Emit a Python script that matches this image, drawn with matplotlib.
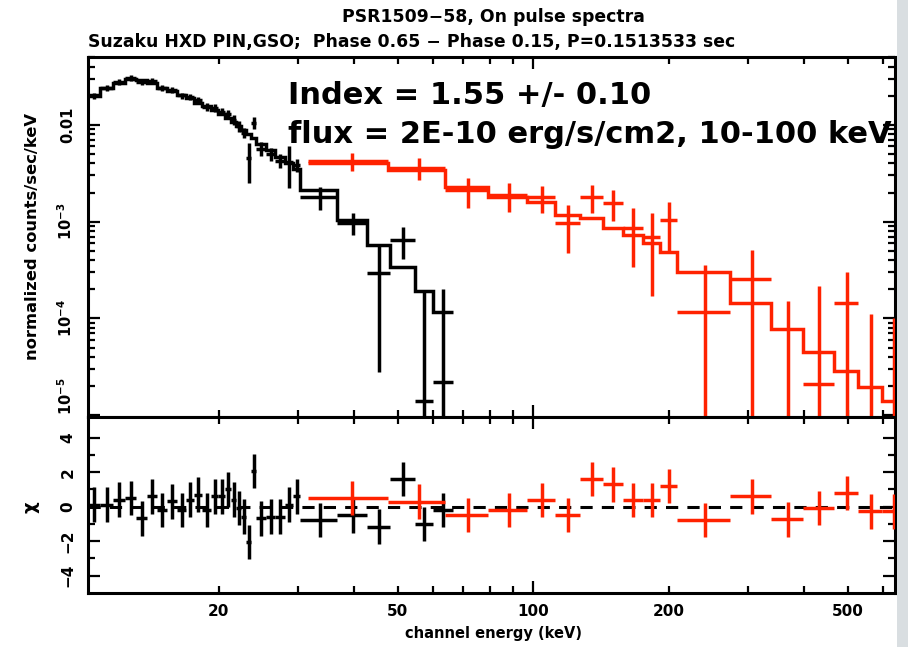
import numpy as np
import matplotlib
matplotlib.use("Agg")
from matplotlib import pyplot as plt
from matplotlib.ticker import FixedLocator, NullFormatter, LogLocator
from matplotlib.patches import Rectangle

plt.rcParams['font.family'] = ['DejaVu Sans']
plt.rcParams['font.weight'] = 'bold'
plt.rcParams['axes.labelweight'] = 'bold'
plt.rcParams['mathtext.default'] = 'bf'

# HXD PIN (black) - bin edges in keV, rates, errors, model, residuals
pin_edges = [10.26, 10.91, 11.66, 12.40, 13.12, 13.88, 14.60, 15.37, 16.18, 16.94,
             17.65, 18.38, 19.25, 19.95, 20.68, 21.33, 21.88, 22.44, 23.03, 23.62,
             24.24, 25.50, 26.71, 28.11, 29.29, 30.34, 36.7, 42.8, 48.1, 54.7,
             59.9, 66.5]
pin_rate = [0.0201, 0.0243, 0.0279, 0.0308, 0.0277, 0.0282, 0.0238, 0.0229, 0.0201, 0.0196,
            0.0180, 0.01545, 0.0151, 0.0137, 0.0129, 0.0112, 0.00967, 0.00828, 0.0045, 0.0105,
            0.00569, 0.00502, 0.00425, 0.00414, 0.00386, 0.00181, 0.00098, 0.000298, 0.00065,
            0.0000139, 0.0000219]
pin_err = [0.0014, 0.0017, 0.0020, 0.0022, 0.0019, 0.0020, 0.0017, 0.0016, 0.0014, 0.0014,
           0.0016, 0.0014, 0.0014, 0.0012, 0.0012, 0.0013, 0.0012, 0.0010, 0.0020, 0.0015,
           0.0009, 0.0008, 0.0007, 0.0019, 0.0006, 0.00048, 0.00025, 0.00027, 0.00024,
           0.00018, 0.00018]
pin_model = [0.0199, 0.0241, 0.0271, 0.0298, 0.0291, 0.0271, 0.0241, 0.0224, 0.0204, 0.0190,
             0.0169, 0.0157, 0.0143, 0.0130, 0.0118, 0.0107, 0.00976, 0.00888, 0.00808, 0.00734,
             0.00637, 0.00552, 0.00468, 0.00406, 0.00352, 0.00214, 0.00105, 0.00058, 0.00034,
             0.00019, 0.000117]
pin_chi = [0.12, 0.12, 0.41, 0.5, -0.67, 0.6, -0.18, 0.31, -0.18, 0.41,
           0.7, -0.18, 0.6, 0.6, 1.0, 0.41, -0.08, -0.57, -2.04, 2.08,
           -0.67, -0.57, -0.57, 0.12, 0.6, -0.76, -0.5, -1.15, 1.6, -1.0, -0.2]

# HXD GSO (red)
gso_edges = [31.6, 47.6, 63.7, 79.4, 97.0, 111.9, 127.2, 143.1, 158.5, 175.6,
             191.5, 208.9, 274.0, 338.0, 398.1, 466.6, 527.6, 596.5, 670.9]
gso_rate = [0.0042, 0.0036, 0.0021, 0.0019, 0.0018, 0.00097, 0.00181, 0.00157, 0.00087,
            0.00070, 0.00105, 0.000118, 0.000258, 0.000005, 0.0000209, 0.000143,
            0.000002, 0.000002]
gso_err = [0.0009, 0.0009, 0.0007, 0.00063, 0.00056, 0.0005, 0.00058, 0.00055, 0.00053,
           0.00053, 0.00056, 0.00024, 0.00025, 0.000145, 0.000193, 0.00016, 0.000108, 0.0001]
gso_model = [0.00405, 0.00344, 0.0023, 0.00181, 0.00161, 0.00118, 0.0011, 0.000867, 0.000734,
             0.000608, 0.000491, 0.000305, 0.000146, 0.000077, 0.0000446, 0.0000284,
             0.0000195, 0.0000139]
gso_chi = [0.5, 0.3, -0.47, -0.18, 0.4, -0.47, 1.6, 1.3, 0.4, 0.4, 1.2, -0.76, 0.6, -0.73,
           -0.08, 0.8, -0.27, -0.27]

xtick_minor = [20, 30, 40, 50, 60, 70, 80, 90, 200, 300, 400, 500, 600]
xtick_labeled = [20, 50, 100, 200, 500]
ytick_vals = [1e-5, 1e-4, 1e-3, 1e-2]
ytick_labels = [r'$10^{-5}$', r'$10^{-4}$', r'$10^{-3}$', '0.01']
chi_ticks = [-4, -2, 0, 2, 4]
chi_minor = [-3, -1, 1, 3]
chi_labels = ['\u22124', '\u22122', '0', '2', '4']

RED = '#ff2200'
LW = 2.5


def crosses(ax, edges, vals, errs, color, floor=None):
    lo = np.array(edges[:-1])
    hi = np.array(edges[1:])
    mid = (lo + hi) / 2
    vals = np.array(vals)
    errs = np.array(errs)
    if floor is not None:
        down = vals - np.clip(vals - errs, floor, None)
    else:
        down = errs
    ax.errorbar(mid, vals, xerr=[mid - lo, hi - mid], yerr=[down, errs], fmt='none',
                ecolor=color, elinewidth=LW, capsize=0, zorder=3)


fig = plt.figure(figsize=(9.08, 6.47), dpi=100)
ax1 = fig.add_axes([88 / 908, 1 - 417 / 647, 807 / 908, 360 / 647])
ax2 = fig.add_axes([88 / 908, 1 - 593 / 647, 807 / 908, 176 / 647])

# upper panel: data + folded model
crosses(ax1, pin_edges, pin_rate, pin_err, 'black', floor=1e-9)
ax1.stairs(pin_model, pin_edges, color='black', lw=LW, baseline=None, zorder=3)
crosses(ax1, gso_edges, gso_rate, gso_err, RED, floor=1e-9)
ax1.stairs(gso_model, gso_edges, color=RED, lw=LW, baseline=None, zorder=4)

# lower panel: residuals
ax2.axhline(0, color='black', lw=2.2, ls=(0, (4, 3)), zorder=1)
crosses(ax2, pin_edges, pin_chi, np.ones(len(pin_chi)), 'black')
crosses(ax2, gso_edges, gso_chi, np.ones(len(gso_chi)), RED)

for ax in (ax1, ax2):
    ax.set_xscale('log')
    ax.set_xlim(10.25, 637)
    ax.xaxis.set_major_locator(FixedLocator([10, 100, 1000]))
    ax.xaxis.set_minor_locator(FixedLocator(xtick_minor))
    ax.tick_params(which='both', direction='in', top=True, right=True, width=1.6)
    ax.tick_params(which='major', length=8.5)
    ax.tick_params(which='minor', length=4.8)
    for s in ax.spines.values():
        s.set_linewidth(2.2)

ax1.xaxis.set_major_formatter(NullFormatter())
ax1.xaxis.set_minor_formatter(NullFormatter())
ax2.xaxis.set_major_formatter(lambda v, p: '%d' % v if v in xtick_labeled else '')
ax2.xaxis.set_minor_formatter(lambda v, p: '%d' % v if round(v) in xtick_labeled else '')
ax2.tick_params(axis='x', which='both', labelsize=11, pad=8)

ax1.set_yscale('log')
ax1.set_ylim(9.6e-6, 0.0502)
ax1.set_yticks(ytick_vals, ytick_labels)
ax1.yaxis.set_minor_locator(LogLocator(base=10, subs=range(2, 10)))
ax1.yaxis.set_minor_formatter(NullFormatter())
ax1.tick_params(axis='y', labelrotation=90, labelsize=10.5, pad=9)
for t in ax1.get_yticklabels():
    t.set_va('center')
# lowest decade label sits just above the panel joint
ax1.get_yticklabels()[0].set_va('bottom')

ax2.set_ylim(-5, 5.2)
ax2.set_yticks(chi_ticks, chi_labels)
ax2.yaxis.set_minor_locator(FixedLocator(chi_minor))
ax2.tick_params(axis='y', labelrotation=90, labelsize=11, pad=9)
for t in ax2.get_yticklabels():
    t.set_va('center')

ax1.set_ylabel('normalized counts/sec/keV', fontsize=11.8)
ax1.yaxis.set_label_coords(-0.0595, 0.5)
ax2.set_ylabel('\u03c7', fontsize=13)
ax2.yaxis.set_label_coords(-0.0595, 0.49)
ax2.set_xlabel('channel energy (keV)', fontsize=10.5)
ax2.xaxis.set_label_coords(0.502, -0.19)

fig.text(493 / 908, 1 - 17 / 647, 'PSR1509\u221258, On pulse spectra',
         ha='center', va='center', fontsize=12.4)
fig.text(88 / 908, 1 - 42 / 647,
         'Suzaku HXD PIN,GSO;  Phase 0.65 \u2212 Phase 0.15, P=0.1513533 sec',
         ha='left', va='center', fontsize=12.4)

fig.text(288 / 908, 1 - 104 / 647, 'Index = 1.55 +/- 0.10', fontsize=22, va='baseline')
fig.text(288 / 908, 1 - 143 / 647, 'flux = 2E-10 erg/s/cm2, 10-100 keV', fontsize=22,
         va='baseline')

# strip of screen background at the right edge
fig.patches.append(Rectangle((897 / 908, 0), 11 / 908, 1, transform=fig.transFigure,
                             facecolor='#d9dee1', edgecolor='none', zorder=10))

fig.savefig('out.png', dpi=100)
